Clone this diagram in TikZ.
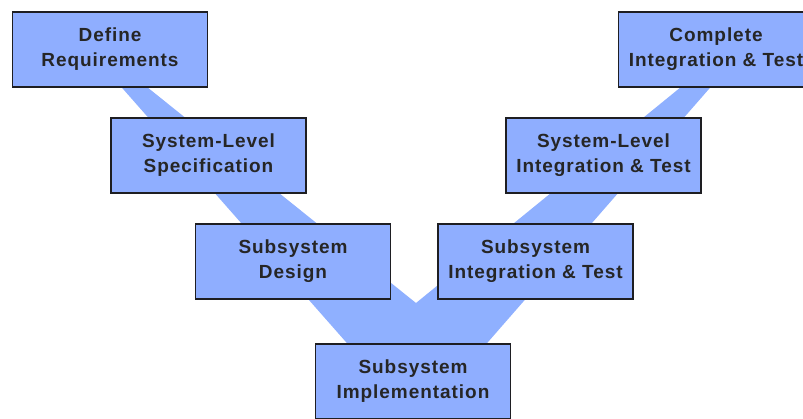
\documentclass[tikz,border=0pt]{standalone}
\usepackage{fontspec}
\setmainfont{Liberation Sans}[LetterSpace=5]
\usetikzlibrary{positioning, calc, backgrounds}

\definecolor{boxblue}{RGB}{143,174,255}
\definecolor{bandblue}{RGB}{143,176,255}
\definecolor{boxline}{RGB}{30,30,34}

\tikzset{
    vbox/.style={rectangle, draw=boxline, line width=1.6pt, fill=boxblue,
        minimum width=195pt, minimum height=75pt, inner sep=0pt,
        align=center, text=black!85,
        font=\fontsize{19}{25}\selectfont\bfseries}
}

\begin{document}
\begin{tikzpicture}[node distance=106pt]
    \useasboundingbox (0pt,0pt) rectangle (803pt,-419pt);

    % Left side of the V
    \node [vbox] (def) at (110pt,-49.5pt) {Define\\Requirements};
    \node [vbox, below of=def, xshift=98.5pt] (spec) {System-Level\\Specification};
    \node [vbox, below of=spec, xshift=84.5pt] (subdes) {Subsystem\\Design};

    % Bottom
    \node [vbox, below of=subdes, xshift=120pt, yshift=-14pt] (impl) {Subsystem\\Implementation};

    % Right side of the V
    \node [vbox, above of=impl, xshift=122.5pt, yshift=14pt] (subint) {Subsystem\\Integration \& Test};
    \node [vbox, above of=subint, xshift=68pt] (sysint) {System-Level\\Integration \& Test};
    \node [vbox, above of=sysint, xshift=112.5pt] (complete) {Complete\\Integration \& Test};

    \coordinate (notch) at (416pt,-303pt);

    % The V band
    \begin{scope}[on background layer]
        \fill [bandblue] ($(def.south)+(12pt,0)$) -- ($(impl.north)+(-66pt,0)$)
            -- ($(impl.north)+(74pt,0)$) -- ($(complete.south)+(-6pt,0)$)
            -- ($(complete.south)+(-36pt,0)$) -- (notch)
            -- ($(def.south)+(38pt,0)$) -- cycle;
    \end{scope}

\end{tikzpicture}
\end{document}
